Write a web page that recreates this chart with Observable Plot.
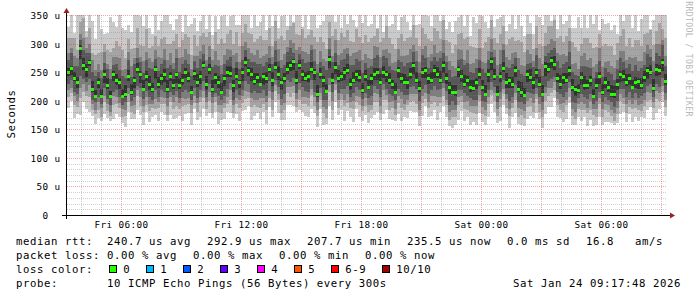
<!DOCTYPE html>
<html><head><meta charset="utf-8">
<script src="https://cdn.jsdelivr.net/npm/d3@7"></script>
<script src="https://cdn.jsdelivr.net/npm/@observablehq/plot@0.6"></script>
<style>
html,body{margin:0;padding:0;background:#fff;}
#chart{position:relative;width:697px;height:297px;overflow:hidden;background:#fff;}
#chart svg{display:block;}
</style></head><body><div id="chart"></div>
<script>
// ---- time frame (UTC) ----
const startTime = new Date(Date.UTC(2026,0,23,3,17,48));
const endTime   = new Date(Date.UTC(2026,0,24,9,17,48));
const stepMinutes = 9;

// ---- median rtt per step (microseconds) ----
const median = [251,257,240,233,293,263,256,267,220,209,233,208,246,228,208,247,237,233,209,212,
244,215,236,255,247,221,244,230,221,256,230,239,247,221,244,227,246,227,236,251,
239,216,249,233,244,263,230,255,221,242,232,215,239,251,249,228,243,232,251,267,
253,247,234,242,230,243,239,255,237,259,246,233,239,256,263,269,236,263,247,239,
244,256,250,212,247,236,217,273,237,259,239,244,251,253,230,236,246,242,218,244,
224,239,246,251,233,251,247,236,230,215,253,239,233,233,247,263,236,222,250,253,
239,237,253,247,236,263,239,224,215,216,255,244,230,236,224,222,233,247,224,212,
246,269,244,212,244,257,233,236,230,253,221,216,210,247,242,232,251,230,212,261,
256,271,265,239,230,242,236,253,224,221,218,242,227,227,236,208,228,244,215,233,
224,212,212,230,246,243,232,239,224,233,234,227,242,253,251,222,256,253,268,235];

// ---- sorted pings 1..10 per step (microseconds) ----
const p1 = [187,199,169,177,175,197,186,181,174,160,170,164,177,169,164,168,176,171,161,154,
180,168,168,184,175,158,181,162,172,175,164,180,175,165,175,168,170,173,164,177,
178,158,185,166,172,186,173,178,169,180,160,167,168,180,178,169,176,164,182,183,
191,167,174,179,168,181,159,189,172,198,178,166,166,193,192,190,180,184,181,174,
172,186,178,154,186,157,159,190,167,197,175,183,165,182,171,163,185,172,164,175,
161,169,175,181,167,177,183,168,167,164,177,164,171,170,182,180,181,155,173,191,
171,174,184,167,181,190,171,155,153,158,167,182,165,171,158,163,157,178,163,157,
172,194,180,161,165,193,176,153,172,178,160,158,156,168,174,170,178,168,153,177,
189,189,204,171,170,163,168,196,158,158,171,164,171,155,167,156,157,171,158,162,
162,161,158,161,177,180,162,177,162,172,164,171,170,184,189,167,178,186,197,174];
const p2 = [207,214,193,189,205,215,208,207,184,177,184,172,198,182,173,193,195,187,172,174,
198,181,177,209,191,180,193,182,187,186,188,194,194,175,198,185,191,186,190,192,
194,178,196,180,197,204,186,200,178,197,181,179,187,195,202,179,194,187,196,203,
205,189,192,189,188,194,184,205,183,217,202,178,183,214,207,213,189,202,195,194,
190,210,190,174,201,179,170,216,183,218,188,202,190,196,188,186,197,192,182,190,
181,183,198,198,179,202,201,183,188,175,196,188,184,192,198,200,195,173,196,203,
188,195,197,191,196,209,193,166,171,172,192,198,185,183,181,178,176,199,176,174,
194,210,199,174,189,211,187,173,187,201,172,175,170,189,190,180,203,181,172,199,
208,213,219,192,183,181,193,207,174,168,185,184,183,178,184,175,172,195,171,183,
180,174,164,177,199,194,179,189,186,187,183,182,191,200,202,187,203,200,215,189];
const p3 = [219,222,208,199,223,229,217,227,195,184,197,188,208,194,181,208,206,196,186,184,
211,191,193,218,206,191,207,194,195,203,198,207,205,190,207,197,207,196,204,203,
204,192,208,196,206,217,197,215,196,207,193,193,196,206,218,192,204,202,208,217,
216,204,201,202,204,204,198,217,201,228,211,193,196,224,224,225,203,218,206,207,
204,221,206,183,214,189,185,228,200,229,202,211,202,212,198,199,208,207,191,204,
193,193,213,211,190,218,210,197,200,185,209,203,195,201,212,212,211,183,209,214,
198,209,209,207,207,222,202,181,183,183,206,208,198,199,190,190,191,210,189,184,
207,219,214,185,203,221,203,185,196,214,187,186,182,199,204,196,212,194,183,214,
222,223,232,203,195,196,202,223,185,181,195,198,195,187,199,186,185,205,185,195,
192,183,178,187,212,205,194,201,195,201,193,195,202,216,214,197,217,213,226,201];
const p4 = [229,236,216,211,243,238,232,238,202,197,207,194,222,203,192,216,218,206,193,197,
222,200,207,226,222,203,217,207,202,218,207,219,216,204,215,210,217,205,216,218,
216,201,223,204,219,235,207,229,207,214,209,202,208,221,231,202,218,210,219,234,
229,214,217,214,213,219,209,234,215,236,224,203,212,236,233,240,214,231,224,217,
216,237,216,197,223,202,202,239,215,237,214,221,220,225,207,213,224,218,203,214,
204,208,226,220,206,230,220,211,208,202,220,216,210,210,224,226,221,199,220,227,
211,219,225,218,221,231,217,193,200,193,219,219,214,208,204,202,201,225,200,197,
218,233,224,198,215,237,212,200,207,228,197,198,195,215,213,211,223,206,197,224,
234,238,242,216,211,207,216,232,197,196,205,211,206,203,211,195,199,215,198,206,
202,197,189,200,221,221,206,216,205,214,204,209,214,225,229,207,230,224,240,213];
const p5 = [243,245,234,223,273,254,242,260,215,205,222,205,231,220,204,235,228,220,204,206,
234,210,223,248,231,217,235,218,215,238,222,228,233,216,234,220,231,221,227,239,
232,212,237,224,229,257,219,247,216,229,222,212,225,242,242,216,237,222,235,259,
244,234,228,231,226,228,231,248,225,254,236,219,233,247,252,253,229,255,234,234,
233,249,236,207,238,224,213,257,229,246,233,234,236,246,219,231,234,233,214,234,
218,227,237,236,228,240,233,229,220,211,240,231,227,221,238,247,231,215,239,239,
229,231,240,239,231,248,230,212,211,209,241,233,224,226,216,217,221,238,217,208,
233,253,236,208,233,251,223,222,223,241,216,207,207,232,234,221,238,224,208,244,
248,257,254,233,221,229,231,243,217,209,214,227,218,221,225,205,220,230,210,223,
215,207,205,218,232,235,226,228,220,223,221,220,233,238,245,217,244,245,252,228];
const p6 = [257,261,251,242,298,275,264,272,234,219,239,221,253,239,217,252,247,239,221,227,
253,229,242,266,252,237,252,243,231,260,242,246,256,236,250,238,251,240,246,258,
251,225,254,247,252,269,243,265,236,249,243,231,245,260,261,236,257,237,258,277,
259,257,248,249,242,248,250,264,250,267,261,239,249,268,270,273,252,272,253,250,
252,268,256,227,257,243,230,278,248,268,253,250,259,265,240,251,253,253,231,253,
237,247,257,257,247,260,252,248,237,231,259,249,246,242,258,268,250,234,258,259,
246,251,262,259,252,269,249,232,228,227,260,253,245,243,236,236,239,257,237,228,
255,274,256,226,251,267,248,242,241,261,234,232,222,253,256,241,256,241,227,268,
266,277,278,248,245,249,248,261,238,226,229,251,243,237,243,221,240,250,229,241,
235,227,225,238,252,253,246,246,236,242,239,240,252,259,262,238,264,262,273,247];
const p7 = [272,283,261,260,306,289,284,284,250,243,250,240,266,256,238,262,265,253,243,239,
271,241,264,275,268,248,272,257,255,273,252,265,271,257,262,255,274,251,264,272,
264,244,270,257,273,281,260,276,259,263,261,246,265,272,277,258,267,256,271,288,
273,268,268,265,265,260,268,274,265,288,270,258,262,285,292,284,266,282,273,266,
268,288,269,249,268,261,254,290,267,283,263,271,273,282,263,263,273,269,249,266,
257,261,274,280,258,278,274,261,253,252,271,268,261,266,268,285,270,248,280,275,
258,270,277,269,274,283,267,253,241,243,271,273,262,266,251,248,258,271,255,249,
272,286,276,244,265,289,259,258,264,274,253,247,243,265,266,259,280,255,243,279,
284,288,293,269,258,265,268,285,250,245,243,261,260,259,258,239,251,270,242,257,
250,247,237,255,275,267,257,265,252,263,252,258,262,281,277,250,284,278,297,261];
const p8 = [284,292,279,274,316,309,292,300,272,254,265,253,285,265,255,276,276,274,253,255,
286,261,275,292,277,270,285,275,267,289,276,275,290,271,283,266,291,274,276,290,
282,256,279,278,287,297,271,296,272,287,271,263,280,291,289,280,283,267,296,302,
293,283,280,289,275,278,282,296,276,304,291,271,281,294,307,301,289,294,287,286,
282,298,291,265,287,273,269,310,278,307,280,284,291,292,279,284,285,288,272,281,
274,273,295,294,277,288,290,283,266,267,291,279,279,280,291,297,287,267,290,296,
276,281,298,284,287,307,279,270,261,257,290,289,272,288,264,266,273,292,267,266,
287,308,289,263,289,300,276,272,284,286,274,263,261,288,281,269,293,274,265,296,
300,308,305,283,280,282,279,304,265,266,256,279,284,271,274,259,265,293,259,268,
269,260,258,271,287,287,272,276,274,277,270,270,285,297,290,269,299,299,307,278];
const p9 = [309,310,309,288,338,344,312,328,284,280,284,286,300,289,285,293,304,295,289,274,
308,291,293,327,297,296,325,292,295,313,295,308,311,300,299,304,316,294,307,317,
312,280,315,296,314,319,311,321,291,320,299,308,301,317,323,300,321,296,319,334,
319,317,302,308,313,306,306,327,296,340,308,313,306,324,330,336,316,315,326,310,
315,323,311,303,311,303,291,338,314,325,307,319,312,324,305,303,325,311,301,315,
302,309,314,325,302,310,330,310,299,291,309,316,305,310,312,332,310,296,328,316,
308,305,327,322,308,342,306,303,283,297,316,319,308,311,295,294,292,326,292,303,
312,342,309,301,317,331,298,308,311,305,307,303,285,317,316,290,330,300,295,319,
330,330,342,309,313,302,314,328,303,294,287,300,309,310,301,293,294,316,295,300,
296,295,280,301,313,325,296,309,294,306,306,295,316,318,324,297,322,336,326,310];
const p10 = [329,370,318,358,368,364,322,363,339,308,350,326,316,319,347,338,329,353,327,324,
333,321,353,355,349,331,365,327,317,361,323,340,355,370,335,324,343,356,320,372,
330,335,345,322,340,367,326,391,315,348,326,348,361,330,348,358,333,332,369,379,
361,327,357,331,338,366,324,359,331,360,328,348,364,331,374,338,356,377,329,362,
325,371,369,328,333,339,353,358,359,338,362,327,362,334,370,341,329,363,336,359,
330,335,369,327,362,320,352,330,335,356,324,346,363,338,324,367,332,334,353,372,
348,330,355,367,340,367,326,338,321,339,346,367,330,371,313,346,336,353,348,337,
328,364,329,343,347,389,322,334,365,325,369,331,313,352,336,316,354,346,333,371,
374,340,400,325,363,334,339,368,327,327,347,328,355,328,356,335,358,323,343,335,
336,323,332,317,358,340,356,351,328,361,322,343,354,368,326,341,380,361,372,350];

// ---- axes / legend text ----
const yTicks = [0,50,100,150,200,250,300,350];
const xTickTimes = [Date.UTC(2026,0,23,6), Date.UTC(2026,0,23,12), Date.UTC(2026,0,23,18), Date.UTC(2026,0,24,0), Date.UTC(2026,0,24,6)].map(t=>new Date(t));
const smokeColors = ["#cacaca","#a4a4a4","#7e7e7e","#585858","#323232"];
const rowLabels = ["median rtt:", "packet loss:", "loss color:", "probe:"];
const rttStats = ["240.7 us avg", "292.9 us max", "207.7 us min", "235.5 us now", "0.0 ms sd", "16.8   am/s"];
const lossStats = ["0.00 % avg", "0.00 % max", "0.00 % min", "0.00 % now"];
const lossLabels = ["0","1","2","3","4","5","6-9","10/10"];
const lossColors = ["#26ff00","#00b8ff","#0059ff","#5e00ff","#ff00ff","#ff5500","#ff0000","#a00000"];
const probeText = "10 ICMP Echo Pings (56 Bytes) every 300s";
const stampText = "Sat Jan 24 09:17:48 2026";
const yAxisLabel = "Seconds";
const watermark = "RRDTOOL / TOBI OETIKER";

const pings = [p1,p2,p3,p4,p5,p6,p7,p8,p9,p10];
const rows = median.map((m,i)=>({
  t1: new Date(+startTime + i*stepMinutes*60000),
  t2: new Date(+startTime + (i+1)*stepMinutes*60000),
  m, p: pings.map(a=>a[i])
}));

const hours = d3.utcHour.range(startTime, endTime);
const minorX = hours.filter(h=>h.getUTCHours()%3!==0);
const majorX = hours.filter(h=>h.getUTCHours()%3===0);
const minorY = d3.range(10,351,10).filter(v=>v%50!==0);
const majorY = d3.range(50,351,50);

const W=697,H=297,ML=67,MR=30,MT=15,MB=82;

const chart = Plot.plot({
  width: W, height: H,
  marginLeft: ML, marginRight: MR, marginTop: MT, marginBottom: MB,
  style: "background:#fff;color:#000;font-family:'DejaVu Sans Mono',monospace;font-size:9.33px;letter-spacing:0.38px;overflow:visible;",
  x: {type:"utc", domain:[startTime,endTime], ticks: xTickTimes, tickFormat: d3.utcFormat("%a %H:%M"), tickSize:0, tickPadding:6, label:null, round:true},
  y: {domain:[0,350], ticks: yTicks, tickFormat: d => d===0 ? "0\u00a0\u00a0" : d + " u", tickSize:0, tickPadding:7, label:null, clamp:true, round:true},
  marks: [
    ...smokeColors.map((c,k)=>Plot.rect(rows,{x1:"t1",x2:"t2",y1:d=>d.p[k],y2:d=>d.p[9-k],fill:c,shapeRendering:"crispEdges"})),
    Plot.rect(rows,{x1:"t1",x2:"t2",y1:"m",y2:"m",insetTop:-1.5,insetBottom:-1.5,fill:lossColors[0],shapeRendering:"crispEdges"}),
    Plot.ruleY(minorY,{stroke:"#808080",strokeOpacity:0.38,strokeDasharray:"1,1"}),
    Plot.ruleX(minorX,{stroke:"#808080",strokeOpacity:0.38,strokeDasharray:"1,1"}),
    Plot.ruleY(majorY,{stroke:"#e03030",strokeOpacity:0.42,strokeDasharray:"1,1"}),
    Plot.ruleX(majorX,{stroke:"#e03030",strokeOpacity:0.42,strokeDasharray:"1,1"})
  ]
});
document.getElementById("chart").appendChild(chart);

// ---- decorations: axis lines, arrows, legend ----
const svg = d3.select(chart);
const g = svg.append("g");
const x0 = ML - 0.5, yb = H - MB + 0.5, xr = W - MR;
g.append("path").attr("d",`M${x0},${H-MB+4}V${MT-4}`).attr("stroke","#000").attr("fill","none");
g.append("path").attr("d",`M${ML-5},${yb}H${xr+3}`).attr("stroke","#000").attr("fill","none");
g.append("path").attr("d",`M${x0},${MT-7}L${x0-3},${MT-2}L${x0+3},${MT-2}Z`).attr("fill","#a01e1e");
g.append("path").attr("d",`M${xr+8},${yb}L${xr+3},${yb-3}L${xr+3},${yb+3}Z`).attr("fill","#a01e1e");

const legendStyle = "font-family:'DejaVu Sans Mono',monospace;font-size:10.67px;letter-spacing:0.58px;";
const CH = 7, GAP = 16, X0 = 16, XV = 107;
const baselines = [245,259,273,287];
function txt(s,x,y,anchor){
  return g.append("text").attr("x",x).attr("y",y).attr("text-anchor",anchor||"start")
    .attr("fill","#000").attr("style",legendStyle).text(s);
}
rowLabels.forEach((s,i)=>txt(s,X0,baselines[i]));
let x = XV;
rttStats.forEach(s=>{ txt(s,x,baselines[0]); x += s.length*CH + GAP; });
x = XV;
lossStats.forEach(s=>{ txt(s,x,baselines[1]); x += s.length*CH + GAP; });
x = XV + 1.7;
lossLabels.forEach((s,i)=>{
  g.append("rect").attr("x",Math.round(x)+0.5).attr("y",265.5).attr("width",7).attr("height",7)
    .attr("fill",lossColors[i]).attr("stroke","#000");
  txt(s,x+14.6,baselines[2]);
  x += 14.6 + s.length*CH + 15.4;
});
txt(probeText,XV,baselines[3]);
txt(stampText,513,baselines[3]);

g.append("text").attr("transform","translate(11,114) rotate(-90)").attr("text-anchor","middle")
  .attr("dominant-baseline","central").attr("fill","#000").attr("style",legendStyle).text(yAxisLabel);
g.append("text").attr("transform","translate(688.5,59) rotate(90)").attr("text-anchor","middle")
  .attr("dominant-baseline","central").attr("fill","#b8b8b8")
  .attr("style","font-family:'DejaVu Sans Mono',monospace;font-size:8.1px;").text(watermark);
</script></body></html>
